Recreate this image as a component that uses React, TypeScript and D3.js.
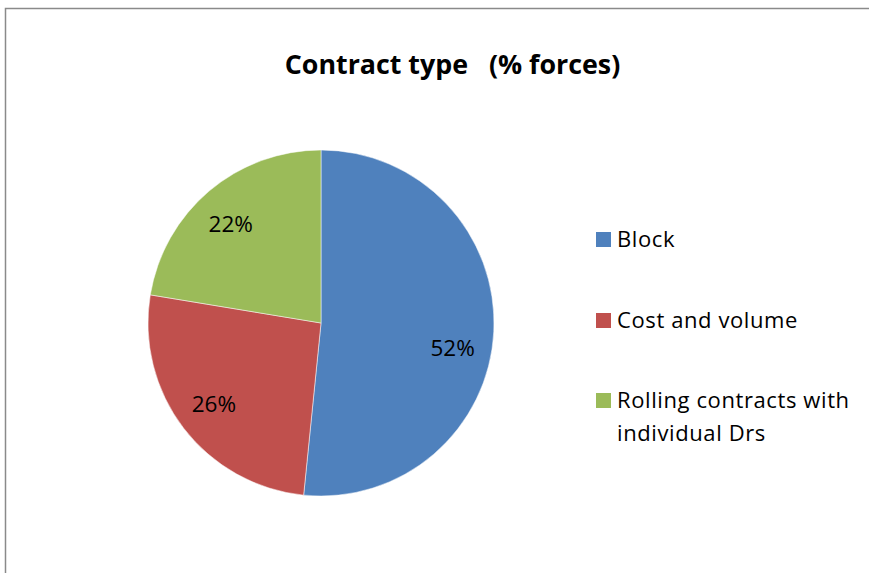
import React from "react";
import * as d3 from "d3";

const categories = ["Block", "Cost and volume", "Rolling contracts with individual Drs"];
const legendLines = [["Block"], ["Cost and volume"], ["Rolling contracts with", "individual Drs"]];
const values = [51.6, 26.0, 22.4];
const labels = ["52%", "26%", "22%"];
const colors = ["#4F81BD", "#C0504D", "#9BBB59"];
const title = "Contract type\u00a0\u00a0\u00a0(% forces)";

// layout (best-fit label angle shifts, degrees)
const labelShift = [8, 0.5, -2];

export default function App() {
  const W = 869, H = 573;
  const cx = 321, cy = 323, r = 173;
  const pie = d3.pie<number>().sort(null).value((d) => d)(values);
  const arc = d3.arc<d3.PieArcDatum<number>>().innerRadius(0).outerRadius(r);
  const font = "'Open Sans', sans-serif";
  const legendY = [247, 328, 408];
  const lr = r * 0.775;
  return (
    <svg width={W} height={H} style={{ position: "absolute", left: 0, top: 0 }}>
      <rect x={0} y={0} width={W} height={H} fill="#fff" />
      <rect x={5.5} y={8.5} width={W + 10} height={H + 10} fill="#fff" stroke="#8a8a8a" strokeWidth={1.5} />
      <text x={452.5} y={73.5} textAnchor="middle" fontFamily={font} fontWeight="bold" fontSize={26.8} fill="#000">
        {title}
      </text>
      <g transform={`translate(${cx},${cy})`}>
        {pie.map((p, i) => (
          <path key={categories[i]} d={arc(p) || ""} fill={colors[i]} stroke="#fff" strokeWidth={0.5} />
        ))}
        {pie.map((p, i) => {
          const a = (p.startAngle + p.endAngle) / 2 + (labelShift[i] * Math.PI) / 180;
          const x = lr * Math.sin(a);
          const y = -lr * Math.cos(a);
          return (
            <text key={"l" + i} x={x} y={y} dy="0.36em" textAnchor="middle" fontFamily={font} fontSize={22.5} fill="#000">
              {labels[i]}
            </text>
          );
        })}
      </g>
      {categories.map((c, i) => (
        <g key={c}>
          <rect x={596} y={legendY[i] - 15} width={15} height={15} fill={colors[i]} />
          {legendLines[i].map((ln, j) => (
            <text key={j} x={617} y={legendY[i] + j * 32.5} fontFamily={font} fontSize={22} letterSpacing={0.6} fill="#000">
              {ln}
            </text>
          ))}
        </g>
      ))}
    </svg>
  );
}
